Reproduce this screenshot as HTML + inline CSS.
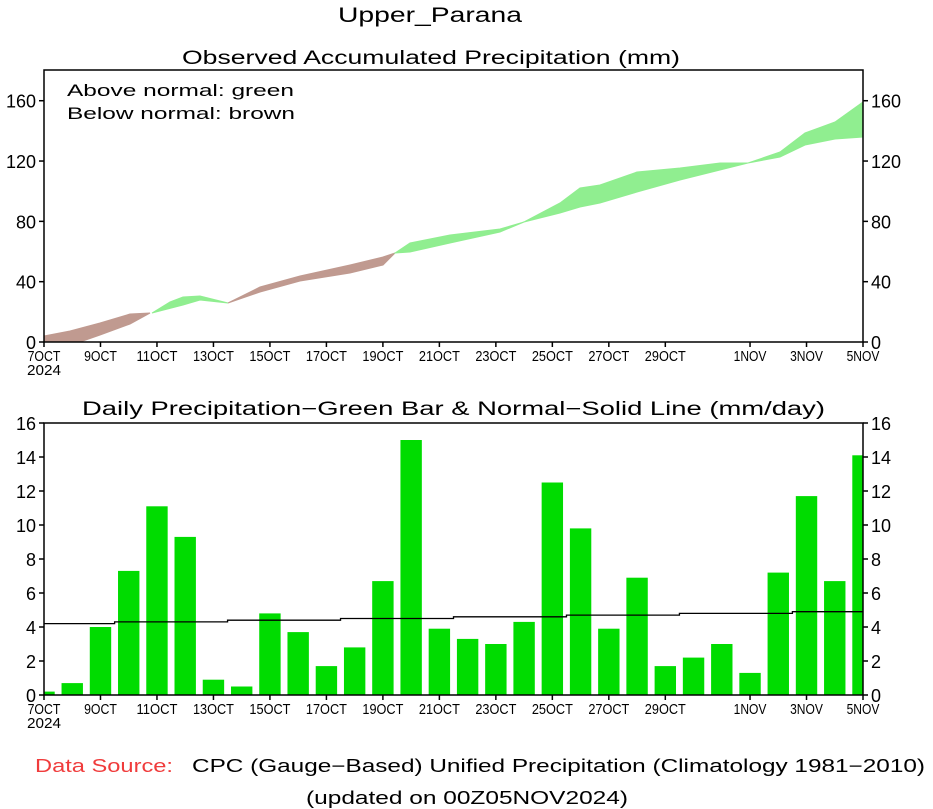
<!DOCTYPE html>
<html><head><meta charset="utf-8"><style>
html,body{margin:0;padding:0;background:#fff;}
svg{display:block;font-family:"Liberation Sans",sans-serif;}
</style></head><body>
<svg id="s" width="933" height="809" viewBox="0 0 933 809" xmlns="http://www.w3.org/2000/svg">
<text x="338" y="22" font-size="21" textLength="184" lengthAdjust="spacingAndGlyphs">Upper_Parana</text>
<text x="182" y="64" font-size="19" textLength="498" lengthAdjust="spacingAndGlyphs">Observed Accumulated Precipitation (mm)</text>
<text x="82" y="415" font-size="19" textLength="743" lengthAdjust="spacingAndGlyphs">Daily Precipitation−Green Bar &amp; Normal−Solid Line (mm/day)</text>
<text x="67" y="96" font-size="17" textLength="227" lengthAdjust="spacingAndGlyphs">Above normal: green</text>
<text x="67" y="119" font-size="17" textLength="228" lengthAdjust="spacingAndGlyphs">Below normal: brown</text>
<g id="top"></g>
<g id="bot"></g>
<text x="35" y="772" font-size="18" fill="#f03c3c" textLength="138" lengthAdjust="spacingAndGlyphs">Data Source:</text>
<text x="192" y="772" font-size="18" textLength="733" lengthAdjust="spacingAndGlyphs">CPC (Gauge−Based) Unified Precipitation (Climatology 1981−2010)</text>
<text x="306" y="804" font-size="18" textLength="322" lengthAdjust="spacingAndGlyphs">(updated on 00Z05NOV2024)</text>
</svg>
<script>
var NS="http://www.w3.org/2000/svg";
function el(p,t,a,txt){var e=document.createElementNS(NS,t);for(var k in a)e.setAttribute(k,a[k]);if(txt!=null)e.textContent=txt;p.appendChild(e);return e;}
var top_=document.getElementById('top'),bot=document.getElementById('bot');
var X0=44,X1=863,dx=(X1-X0)/29;
// top polygons
var brown="#c09a90",green="#90ee90";
var segs=[
 [brown,[[44,336],[70,331],[100,323],[130,314],[150,313]],[[150,313],[130,324],[100,335],[80,342],[44,342]]],
 [green,[[152,313],[170,302],[183,297],[200,296],[228,303]],[[228,303],[200,300],[183,305],[152,313]]],
 [brown,[[228,303],[260,292],[300,281],[350,273],[383,265],[395,253]],[[395,253],[383,257],[350,265],[300,276],[260,287],[228,303]]],
 [green,[[395,253],[410,243],[450,235],[500,229],[524,222]],[[524,222],[500,232],[450,243],[410,252],[395,253]]],
 [green,[[524,222],[560,203],[580,188],[600,185],[637,172],[680,168],[720,163],[748,163]],[[748,163],[720,170],[680,180],[637,192],[600,203],[580,207],[560,213],[524,222]]],
 [green,[[748,163],[780,152],[805,133],[835,122],[863,102]],[[863,137],[835,139],[805,145],[780,157],[748,163]]]
];
segs.forEach(function(s){var pts=s[1].concat(s[2]).map(function(p){return p.join(',')}).join(' ');el(top_,'polygon',{points:pts,fill:s[0],stroke:s[0],'stroke-width':1});});
// bars
var v=[0.2,0.7,4.0,7.3,11.1,9.3,0.9,0.5,4.8,3.7,1.7,2.8,6.7,15.0,3.9,3.3,3.0,4.3,12.5,9.8,3.9,6.9,1.7,2.2,3.0,1.3,7.2,11.7,6.7,14.1];
var B0=695,sc=17;
v.forEach(function(h,i){var c=X0+dx*i,l=Math.max(X0,c-10.7),r=Math.min(X1,c+10.7);el(bot,'rect',{x:l,y:B0-h*sc,width:r-l,height:h*sc,fill:'#00dc00'});});
// normal line
var pts=[];for(var i=0;i<30;i++){var n=Math.round((4.2+0.7*i/29)*10)/10;var l=Math.max(X0,X0+dx*i-dx/2),r=Math.min(X1,X0+dx*i+dx/2);pts.push(l+','+(B0-n*sc),r+','+(B0-n*sc));}
el(bot,'polyline',{points:pts.join(' '),fill:'none',stroke:'#000','stroke-width':1.3});
// frames & axes
function frame(g,yT,yB,ticks){
 el(g,'rect',{x:X0,y:yT,width:X1-X0,height:yB-yT,fill:'none',stroke:'#000','stroke-width':1.5});
 ticks.forEach(function(t){el(g,'line',{x1:X0-5,x2:X0,y1:t[1],y2:t[1],stroke:'#000','stroke-width':1.5});el(g,'line',{x1:X1,x2:X1+5,y1:t[1],y2:t[1],stroke:'#000','stroke-width':1.5});
  el(g,'text',{x:36,y:t[1]+7,'font-size':18,'text-anchor':'end'},t[0]);el(g,'text',{x:871,y:t[1]+7,'font-size':18},t[0]);});
 var labs=[[0,'7OCT'],[2,'9OCT'],[4,'11OCT'],[6,'13OCT'],[8,'15OCT'],[10,'17OCT'],[12,'19OCT'],[14,'21OCT'],[16,'23OCT'],[18,'25OCT'],[20,'27OCT'],[22,'29OCT'],[25,'1NOV'],[27,'3NOV'],[29,'5NOV']];
 labs.forEach(function(L){var x=X0+dx*L[0];el(g,'line',{x1:x,x2:x,y1:yB,y2:yB+5,stroke:'#000','stroke-width':1.5});
  var w=L[1].length*8.2;el(g,'text',{x:x,y:yB+19,'font-size':15,'text-anchor':'middle',textLength:w,lengthAdjust:'spacingAndGlyphs'},L[1]);});
 el(g,'text',{x:X0,y:yB+33,'font-size':15,'text-anchor':'middle',textLength:34,lengthAdjust:'spacingAndGlyphs'},'2024');
}
var tt=[];[0,40,80,120,160].forEach(function(k){tt.push([k,342-k*1.508]);});
frame(top_,70,342,tt);
var bt=[];for(var k=0;k<=16;k+=2)bt.push([k,695-k*sc]);
frame(bot,423,695,bt);
</script>
</body></html>
